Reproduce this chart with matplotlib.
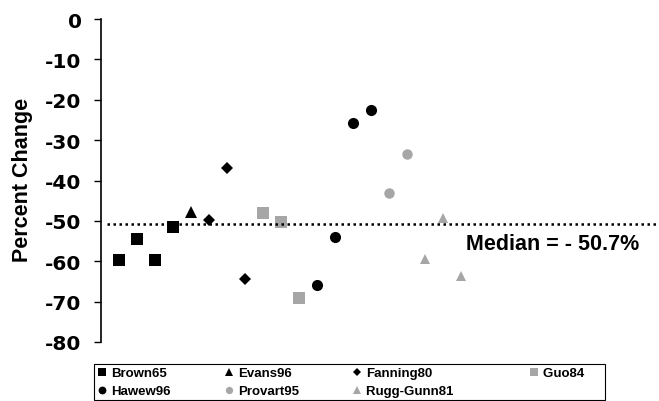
import matplotlib
matplotlib.use('Agg')
import matplotlib.pyplot as plt

plt.rcParams['font.family'] = ['Liberation Sans', 'DejaVu Sans']

# study order along the x axis (one slot per result)
studies = ['Brown65', 'Evans96', 'Fanning80', 'Guo84', 'Hawew96', 'Provart95', 'Rugg-Gunn81']
x_pos = {
    'Brown65': [1, 2, 3, 4],
    'Evans96': [5],
    'Fanning80': [6, 7, 8],
    'Guo84': [9, 10, 11],
    'Hawew96': [12, 13, 14, 15],
    'Provart95': [16, 17],
    'Rugg-Gunn81': [18, 19, 20],
}
pct_change = {
    'Brown65': [-59.8, -54.6, -59.8, -51.6],
    'Evans96': [-47.8],
    'Fanning80': [-49.7, -36.8, -64.3],
    'Guo84': [-48.0, -50.4, -69.1],
    'Hawew96': [-65.9, -54.1, -25.8, -22.5],
    'Provart95': [-43.1, -33.5],
    'Rugg-Gunn81': [-59.4, -49.4, -63.6],
}
median_val = -50.7
y_ticks = [0, -10, -20, -30, -40, -50, -60, -70, -80]

GREY = '#a6a6a6'
styles = {
    'Brown65': dict(marker='s', color='black', ms=8),
    'Evans96': dict(marker='^', color='black', ms=8),
    'Fanning80': dict(marker='D', color='black', ms=6),
    'Guo84': dict(marker='s', color=GREY, ms=8),
    'Hawew96': dict(marker='o', color='black', ms=8),
    'Provart95': dict(marker='o', color=GREY, ms=7.5),
    'Rugg-Gunn81': dict(marker='^', color=GREY, ms=7.5),
}

fig = plt.figure(figsize=(6.59, 4.02), dpi=100)
ax = fig.add_axes([101 / 659, 59 / 402, 556 / 659, 323 / 402])

handles = {}
for s in studies:
    st = styles[s]
    h, = ax.plot(x_pos[s], pct_change[s], linestyle='none', marker=st['marker'],
                 color=st['color'], markersize=st['ms'], markeredgewidth=0, label=s)
    handles[s] = h

ax.axhline(median_val, xmin=0.01, xmax=1.0, color='black', linestyle=(0, (1, 1.4)), linewidth=1.8)
ax.text(29.9, -55.5, 'Median = - 50.7%', fontsize=15.5, fontweight='bold',
        ha='right', va='center')

ax.set_xlim(0, 30.9)
ax.set_ylim(-80, 0)
ax.set_yticks(y_ticks)
ax.set_yticklabels([str(v) for v in y_ticks], fontsize=14.5, fontweight='bold',
                   family='DejaVu Sans')
ax.set_xticks([])
ax.tick_params(axis='y', direction='out', length=5, width=1, pad=9)
for side in ['top', 'right', 'bottom']:
    ax.spines[side].set_visible(False)
ax.spines['left'].set_linewidth(1.2)
ax.set_ylabel('Percent Change', fontsize=15.5, fontweight='bold')
ax.yaxis.set_label_coords(-0.122, 0.505)

# row-wise order in a 4-column legend; trailing spaces widen the last two columns
order = ['Brown65', 'Hawew96', 'Evans96', 'Provart95', 'Fanning80', 'Rugg-Gunn81', 'Guo84']
labels = [s + ' ' * {'Rugg-Gunn81': 6, 'Guo84': 5}.get(s, 0) for s in order]
leg = fig.legend([handles[s] for s in order], labels, ncol=4, mode='expand',
                 bbox_to_anchor=(94 / 659, 1 / 402, 511 / 659, 38 / 402),
                 loc='lower left', fancybox=False, edgecolor='black', framealpha=1,
                 prop={'size': 9.5, 'weight': 'bold'}, handlelength=0.8,
                 handletextpad=0.3, borderpad=0.2, borderaxespad=0,
                 labelspacing=0.45, markerscale=0.7)
leg.get_frame().set_linewidth(0.8)

fig.savefig('out.png', dpi=100)
